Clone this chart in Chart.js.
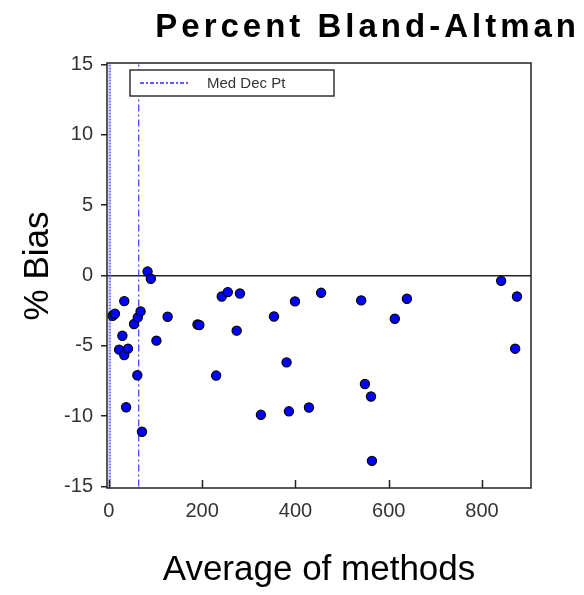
<!DOCTYPE html>
<html>
<head>
<meta charset="utf-8">
<script src="https://cdn.jsdelivr.net/npm/chart.js@4.4.1/dist/chart.umd.min.js"></script>
<style>
    html, body { margin: 0; padding: 0; background: #fff; }
    #wrap { width: 584px; height: 595px; }
</style>
</head>
<body>
<div id="wrap"><canvas id="chartBias" width="584" height="595"></canvas></div>
<script>
(function () {
    'use strict';

    // average of the two methods (x) and percent bias (y)
    var avgValues = [8, 13, 22, 29, 33, 33, 37, 41, 54, 61, 62, 68, 71, 83, 90, 102, 126, 190, 194, 230,
        242, 255, 274, 281, 326, 354, 381, 386, 399, 429, 455, 541, 549, 562, 564, 613, 639, 841, 871, 875];
    var biasValues = [-2.86, -2.72, -5.27, -4.28, -1.82, -5.65, -9.36, -5.2, -3.45, -7.09, -2.98, -2.55, -11.1, 0.28, -0.23, -4.63, -2.93, -3.48, -3.52, -7.11,
        -1.49, -1.18, -3.92, -1.28, -9.9, -2.91, -6.17, -9.65, -1.84, -9.38, -1.23, -1.77, -7.71, -8.6, -13.17, -3.07, -1.65, -0.38, -5.2, -1.49];

    var medDecPt = 64;
    var leftRefLine = 2;

    var xTicks = [0, 200, 400, 600, 800];
    var yTicks = [15, 10, 5, 0, -5, -10, -15];
    var xRange = [-4, 905];
    var yRange = [-15.1, 15.1];

    var titleText = 'Percent Bland-Altman';
    var xTitle = 'Average of methods';
    var yTitle = '% Bias';
    var legendLabel = 'Med Dec Pt';

    var points = avgValues.map(function (x, i) {
        return { x: x, y: biasValues[i] };
    });

    function vline(x) {
        return [{ x: x, y: yTicks[yTicks.length - 1] }, { x: x, y: yTicks[0] }];
    }

    var decorations = {
        id: 'decorations',
        afterDatasetsDraw: function (chart) {
            var ctx = chart.ctx;
            var area = chart.chartArea;
            var xs = chart.scales.x;
            ctx.save();

            // frame
            ctx.strokeStyle = '#222';
            ctx.lineWidth = 1.5;
            ctx.strokeRect(area.left, area.top, area.right - area.left, area.bottom - area.top);

            // x ticks point inwards
            xTicks.forEach(function (v) {
                var px = Math.round(xs.getPixelForValue(v)) + 0.5;
                ctx.beginPath();
                ctx.moveTo(px, area.bottom);
                ctx.lineTo(px, area.bottom - 8);
                ctx.stroke();
            });

            // legend box
            var bx = 130, by = 70, bw = 204, bh = 26;
            ctx.fillStyle = '#fff';
            ctx.fillRect(bx, by, bw, bh);
            ctx.strokeStyle = '#333';
            ctx.lineWidth = 1.5;
            ctx.strokeRect(bx, by, bw, bh);
            ctx.strokeStyle = '#2a2aff';
            ctx.lineWidth = 1.5;
            ctx.setLineDash([4, 2, 2, 2]);
            ctx.beginPath();
            ctx.moveTo(bx + 10, by + 13);
            ctx.lineTo(bx + 60, by + 13);
            ctx.stroke();
            ctx.setLineDash([]);
            ctx.fillStyle = '#333';
            ctx.font = '15px Arial, "Liberation Sans"';
            ctx.textBaseline = 'middle';
            ctx.textAlign = 'left';
            ctx.fillText(chart.data.datasets[1].label, bx + 77, by + 14);

            // y axis title, sits a bit above the plot centre
            ctx.save();
            ctx.translate(38, 266);
            ctx.rotate(-Math.PI / 2);
            ctx.fillStyle = '#000';
            ctx.font = '35px Arial, "Liberation Sans"';
            ctx.textAlign = 'center';
            ctx.textBaseline = 'middle';
            ctx.fillText(yTitle, 0, 0);
            ctx.restore();

            // title
            ctx.fillStyle = '#000';
            ctx.font = 'bold 33px Arial, "Liberation Sans"';
            ctx.textAlign = 'right';
            ctx.textBaseline = 'alphabetic';
            ctx.letterSpacing = '4px';
            ctx.fillText(titleText, 580, 37);
            ctx.restore();
        }
    };

    new Chart(document.getElementById('chartBias'), {
        type: 'scatter',
        data: {
            datasets: [
                {
                    label: 'Data',
                    data: points,
                    backgroundColor: '#0000ff',
                    borderColor: '#000',
                    pointRadius: 4.6,
                    pointBorderWidth: 1.2,
                    order: 0
                },
                {
                    label: legendLabel,
                    data: vline(medDecPt),
                    showLine: true,
                    borderColor: '#3a3aff',
                    borderWidth: 1.2,
                    borderDash: [7, 3, 2, 3],
                    pointRadius: 0,
                    order: 1
                },
                {
                    label: 'ref',
                    data: vline(leftRefLine),
                    showLine: true,
                    borderColor: 'rgba(70,70,255,0.7)',
                    borderWidth: 2.5,
                    borderDash: [2, 1],
                    pointRadius: 0,
                    order: 2
                }
            ]
        },
        options: {
            responsive: false,
            animation: false,
            layout: { padding: { top: 63, right: 53, left: 0, bottom: 0 } },
            plugins: {
                legend: { display: false },
                title: { display: false },
                tooltip: { enabled: false }
            },
            scales: {
                x: {
                    type: 'linear',
                    min: xRange[0],
                    max: xRange[1],
                    afterFit: function (s) { s.height = 107; },
                    afterBuildTicks: function (s) {
                        s.ticks = xTicks.map(function (v) { return { value: v }; });
                    },
                    border: { display: false },
                    grid: { drawOnChartArea: false, drawTicks: false },
                    ticks: {
                        color: '#333',
                        padding: 11,
                        maxRotation: 0,
                        font: { family: 'Arial, "Liberation Sans"', size: 20 }
                    },
                    title: {
                        display: true,
                        text: xTitle,
                        color: '#000',
                        padding: { top: 0, bottom: 7 },
                        font: { family: 'Arial, "Liberation Sans"', size: 35, lineHeight: 1 }
                    }
                },
                y: {
                    type: 'linear',
                    min: yRange[0],
                    max: yRange[1],
                    afterFit: function (s) { s.width = 107; },
                    afterBuildTicks: function (s) {
                        s.ticks = yTicks.map(function (v) { return { value: v }; });
                    },
                    border: { display: false },
                    grid: {
                        color: function (c) { return c.tick && c.tick.value === 0 ? '#222' : 'rgba(0,0,0,0)'; },
                        lineWidth: 1.5,
                        tickColor: '#222',
                        tickLength: 6,
                        tickWidth: 1.5
                    },
                    ticks: {
                        color: '#333',
                        padding: 8,
                        font: { family: 'Arial, "Liberation Sans"', size: 20 }
                    },
                    title: { display: false }
                }
            }
        },
        plugins: [decorations]
    });
})();
</script>
</body>
</html>
